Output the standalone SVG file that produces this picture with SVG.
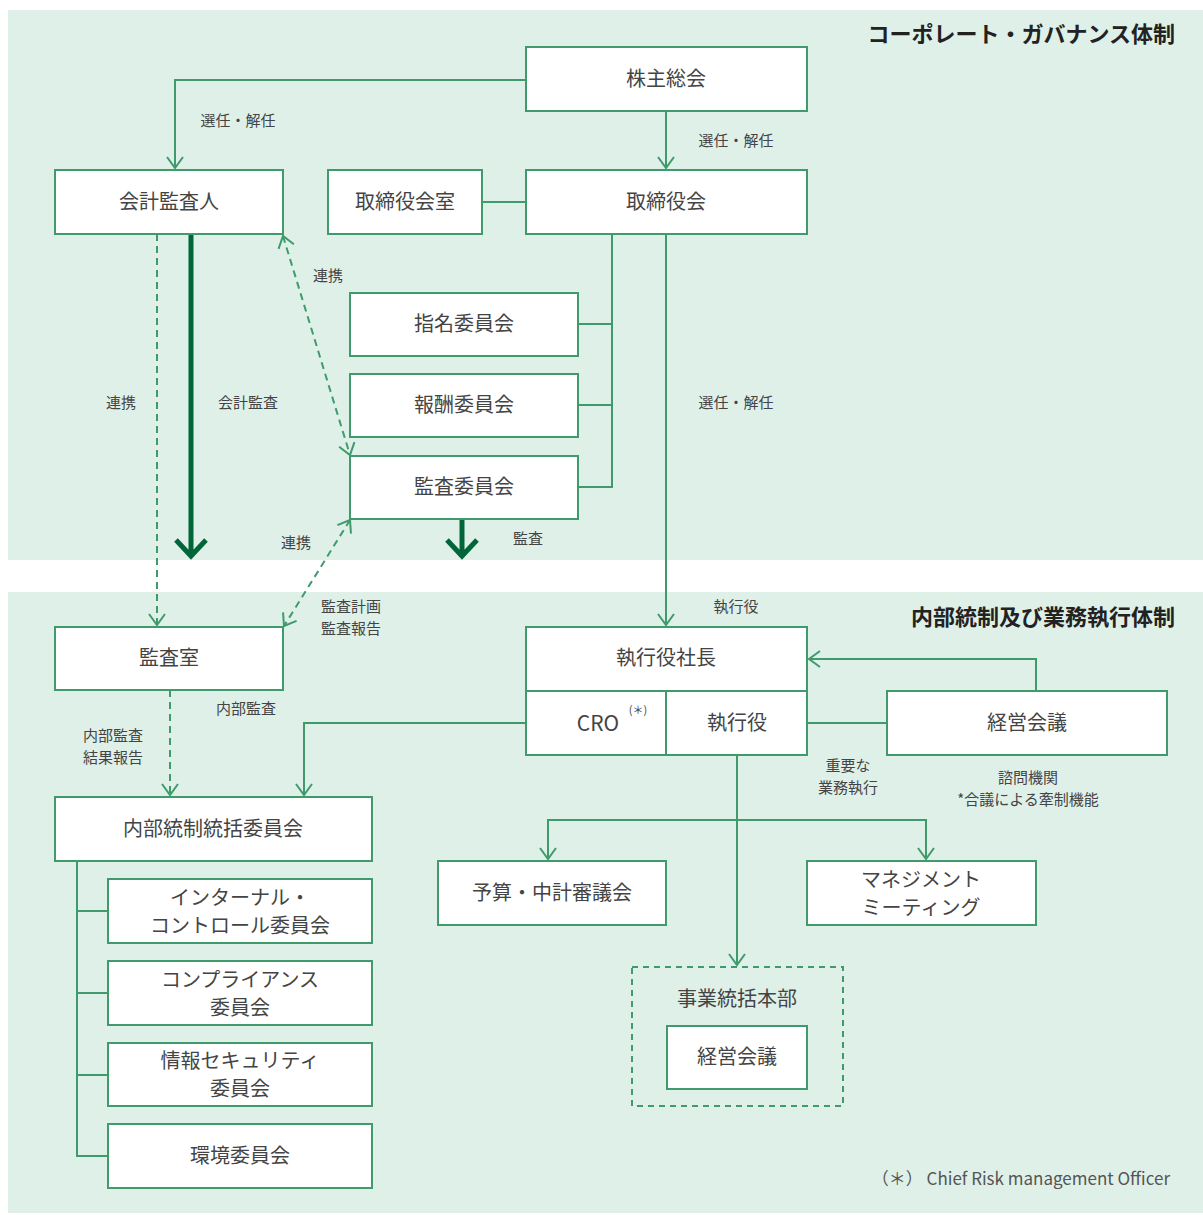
<svg xmlns="http://www.w3.org/2000/svg" width="1203" height="1215" viewBox="0 0 1203 1215">
<defs>
<style>
.bg{fill:#dff0e9}
.box{fill:#fff;stroke:#3f9b6c;stroke-width:2}
.ln{fill:none;stroke:#3f9b6c;stroke-width:2}
.dash{fill:none;stroke:#3f9b6c;stroke-width:2;stroke-dasharray:7 5}
.thick{fill:none;stroke:#00663a;stroke-width:5}
text{font-family:"Noto Sans CJK JP","Noto Sans",sans-serif;fill:#444}
.t{font-size:20px;text-anchor:middle}
.s{font-size:15px;text-anchor:middle}
.h{font-size:22px;font-weight:bold;text-anchor:end;fill:#222}
</style>
<marker id="a" viewBox="-12 -9 14 18" markerWidth="14" markerHeight="18" refX="0" refY="0" orient="auto-start-reverse" markerUnits="userSpaceOnUse">
<path d="M-11,-8 L0,0 L-11,8" fill="none" stroke="#3f9b6c" stroke-width="2"/>
</marker>
</defs>
<rect class="bg" x="8" y="10" width="1195" height="550"/>
<rect class="bg" x="8" y="592" width="1195" height="621"/>
<text class="h" x="1175" y="42">コーポレート・ガバナンス体制</text>
<text class="h" x="1175" y="625">内部統制及び業務執行体制</text>

<g id="connectors">
<path class="ln" d="M526,80 H175 V168" marker-end="url(#a)"/>
<path class="ln" d="M666,111 V168" marker-end="url(#a)"/>
<path class="ln" d="M482,202 H526"/>
<path class="ln" d="M612,234 V487 H578 M578,324 H612 M578,405 H612"/>
<path class="ln" d="M666,234 V625" marker-end="url(#a)"/>
<path class="thick" d="M191,234 V556 M176,540 L191,556 L206,540"/>
<path class="thick" d="M462,519 V556 M447,540 L462,556 L477,540"/>
<path class="dash" d="M157,234 V625" marker-end="url(#a)"/>
<path class="dash" d="M283,236 L350,455" marker-start="url(#a)" marker-end="url(#a)"/>
<path class="dash" d="M350,520 L284,626" marker-start="url(#a)" marker-end="url(#a)"/>
<path class="ln" d="M1036,691 V659 H809" marker-end="url(#a)"/>
<path class="ln" d="M807,723 H887"/>
<path class="ln" d="M526,723 H304 V795" marker-end="url(#a)"/>
<path class="dash" d="M170,690 V795" marker-end="url(#a)"/>
<path class="ln" d="M77,861 V1156 H108 M77,911 H108 M77,993 H108 M77,1075 H108"/>
<path class="ln" d="M737,755 V965" marker-end="url(#a)"/>
<path class="ln" d="M548,859 V820 H926 V859" marker-start="url(#a)" marker-end="url(#a)"/>
</g>

<g id="labels">
<text class="s" x="238" y="126">選任・解任</text>
<text class="s" x="736" y="146">選任・解任</text>
<text class="s" x="328" y="281">連携</text>
<text class="s" x="121" y="408">連携</text>
<text class="s" x="248" y="408">会計監査</text>
<text class="s" x="736" y="408">選任・解任</text>
<text class="s" x="296" y="548">連携</text>
<text class="s" x="528" y="544">監査</text>
<text class="s" x="351" y="612">監査計画</text>
<text class="s" x="351" y="634">監査報告</text>
<text class="s" x="736" y="612">執行役</text>
<text class="s" x="246" y="714">内部監査</text>
<text class="s" x="113" y="741">内部監査</text>
<text class="s" x="113" y="763">結果報告</text>
<text class="s" x="848" y="771">重要な</text>
<text class="s" x="848" y="793">業務執行</text>
<text class="s" x="1028" y="783">諮問機関</text>
<text class="s" x="1028" y="805">*合議による牽制機能</text>
<text style="font-size:17px;text-anchor:end;fill:#555" x="1170" y="1185">（＊） Chief Risk management Officer</text>
</g>

<g id="n-shareholders"><rect class="box" x="526" y="47" width="281" height="64"/><text class="t" x="666" y="86">株主総会</text></g>
<g id="n-auditor"><rect class="box" x="55" y="170" width="228" height="64"/><text class="t" x="169" y="209">会計監査人</text></g>
<g id="n-boardoffice"><rect class="box" x="328" y="170" width="154" height="64"/><text class="t" x="405" y="209">取締役会室</text></g>
<g id="n-board"><rect class="box" x="526" y="170" width="281" height="64"/><text class="t" x="666" y="209">取締役会</text></g>
<g id="n-nomination"><rect class="box" x="350" y="293" width="228" height="63"/><text class="t" x="464" y="331">指名委員会</text></g>
<g id="n-compensation"><rect class="box" x="350" y="374" width="228" height="63"/><text class="t" x="464" y="412">報酬委員会</text></g>
<g id="n-auditcommittee"><rect class="box" x="350" y="456" width="228" height="63"/><text class="t" x="464" y="494">監査委員会</text></g>

<g id="n-auditoffice"><rect class="box" x="55" y="627" width="228" height="63"/><text class="t" x="169" y="665">監査室</text></g>
<g id="n-president"><rect class="box" x="526" y="627" width="281" height="64"/><text class="t" x="666" y="665">執行役社長</text></g>
<g id="n-cro"><rect class="box" x="526" y="691" width="140" height="64"/><text style="font-size:21px;text-anchor:middle" x="598" y="731">CRO</text><text style="font-size:11px;text-anchor:middle" x="638" y="714">(＊)</text></g>
<g id="n-officers"><rect class="box" x="666" y="691" width="141" height="64"/><text class="t" x="737" y="730">執行役</text></g>
<g id="n-mgmtmeeting"><rect class="box" x="887" y="691" width="280" height="64"/><text class="t" x="1027" y="730">経営会議</text></g>
<g id="n-icc"><rect class="box" x="55" y="797" width="317" height="64"/><text class="t" x="213" y="836">内部統制統括委員会</text></g>
<g id="n-internalcontrol"><rect class="box" x="108" y="879" width="264" height="64"/><text class="t" x="240" y="905">インターナル・</text><text class="t" x="240" y="933">コントロール委員会</text></g>
<g id="n-compliance"><rect class="box" x="108" y="961" width="264" height="64"/><text class="t" x="240" y="987">コンプライアンス</text><text class="t" x="240" y="1015">委員会</text></g>
<g id="n-infosec"><rect class="box" x="108" y="1043" width="264" height="63"/><text class="t" x="240" y="1068">情報セキュリティ</text><text class="t" x="240" y="1096">委員会</text></g>
<g id="n-env"><rect class="box" x="108" y="1124" width="264" height="64"/><text class="t" x="240" y="1163">環境委員会</text></g>
<g id="n-budget"><rect class="box" x="438" y="861" width="228" height="64"/><text class="t" x="552" y="900">予算・中計審議会</text></g>
<g id="n-management"><rect class="box" x="807" y="861" width="229" height="64"/><text class="t" x="921" y="887">マネジメント</text><text class="t" x="921" y="915">ミーティング</text></g>
<g id="n-bizhq"><rect x="632" y="967" width="211" height="139" fill="none" stroke="#3f9b6c" stroke-width="2" stroke-dasharray="6 5"/><text class="t" x="737" y="1006">事業統括本部</text></g>
<g id="n-bizhq-meeting"><rect class="box" x="667" y="1026" width="140" height="63"/><text class="t" x="737" y="1064">経営会議</text></g>
</svg>
